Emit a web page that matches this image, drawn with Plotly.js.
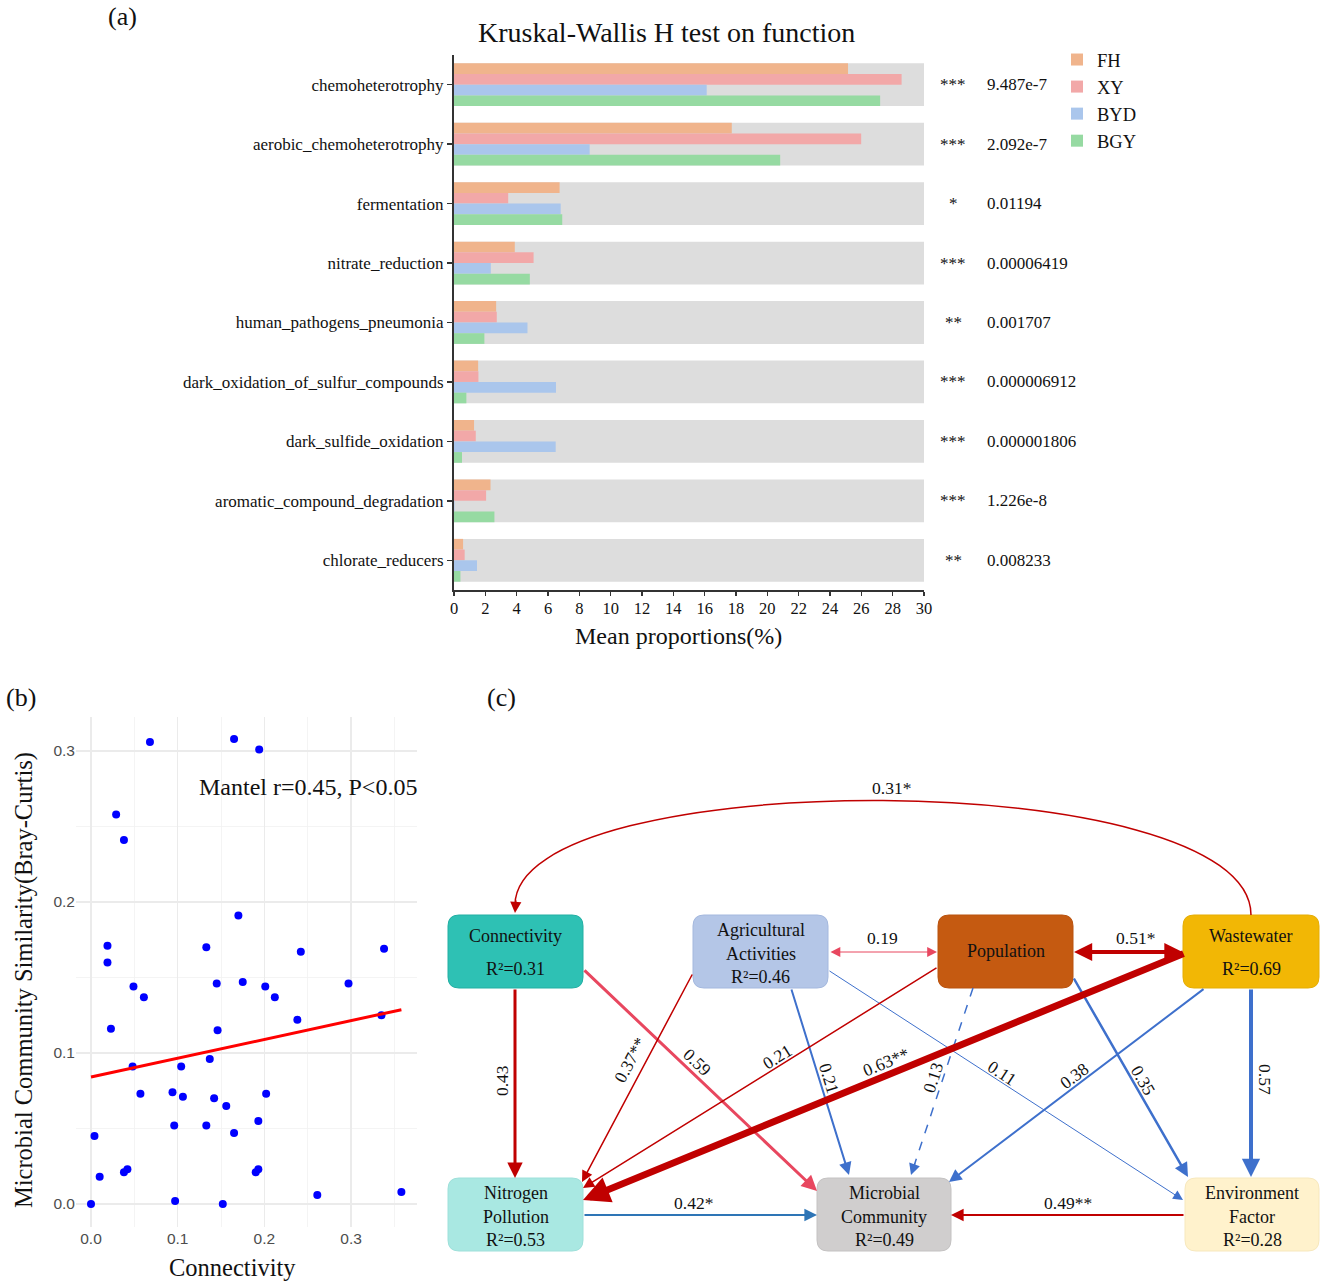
<!DOCTYPE html>
<html><head><meta charset="utf-8">
<script src="https://cdn.plot.ly/plotly-3.0.1.min.js"></script>
<style>body{margin:0;background:#fff}#chart{width:1325px;height:1285px}</style>
</head><body><div id="chart"></div>
<script>
const SERIF = 'Liberation Serif, "Times New Roman", serif';
const SANS = 'Liberation Sans, Arial, sans-serif';
const W = 1325, H = 1285;
const px = x => x / W, py = y => 1 - y / H;

// ---------- Panel (a) data ----------
const categories = ['chemoheterotrophy','aerobic_chemoheterotrophy','fermentation','nitrate_reduction',
  'human_pathogens_pneumonia','dark_oxidation_of_sulfur_compounds','dark_sulfide_oxidation',
  'aromatic_compound_degradation','chlorate_reducers'];
const groups = ['FH','XY','BYD','BGY'];
const FH  = [25.15, 17.73, 6.74, 3.88, 2.69, 1.54, 1.28, 2.33, 0.58];
const XY  = [28.57, 25.99, 3.46, 5.08, 2.73, 1.56, 1.39, 2.05, 0.68];
const BYD = [16.13, 8.66, 6.81, 2.35, 4.69, 6.51, 6.49, 0.03, 1.47];
const BGY = [27.20, 20.82, 6.91, 4.84, 1.94, 0.79, 0.51, 2.58, 0.41];
const stars = ['***','***','*','***','**','***','***','***','**'];
const pvalues = ['9.487e-7','2.092e-7','0.01194','0.00006419','0.001707','0.000006912','0.000001806','1.226e-8','0.008233'];
const xMaxA = 30;

// ---------- Panel (b) data ----------
const connectivity = [0.068,0.165,0.194,0.029,0.038,0.170,0.019,0.133,0.019,0.242,0.338,0.049,0.145,0.175,0.201,0.297,
  0.061,0.212,0.023,0.238,0.335,0.146,0.048,0.104,0.137,0.057,0.094,0.106,0.142,0.156,0.202,0.096,0.133,0.193,0.165,
  0.004,0.010,0.038,0.042,0.190,0.193,0.261,0.358,0.000,0.097,0.152];
const similarity = [0.306,0.308,0.301,0.258,0.241,0.191,0.171,0.170,0.160,0.167,0.169,0.144,0.146,0.147,0.144,0.146,
  0.137,0.137,0.116,0.122,0.125,0.115,0.091,0.091,0.096,0.073,0.074,0.071,0.070,0.065,0.073,0.052,0.052,0.055,0.047,
  0.045,0.018,0.021,0.023,0.021,0.023,0.006,0.008,0.000,0.002,0.000];
const fitX = [0, 0.358];
const fitY = [0.0841, 0.1287];

// ---------- Panel (c) data ----------
const nodes = {
  Con: {lines:['Connectivity'], r2:'R²=0.31', fill:'#2EC1B4', border:'#22AFA3', box:[448,915,583,988]},
  Agr: {lines:['Agricultural','Activities'], r2:'R²=0.46', fill:'#B4C6E7', border:'#A4B8DE', box:[693,915,828,988]},
  Pop: {lines:['Population'], r2:'', fill:'#C55A11', border:'#B9520E', box:[938,915,1073,988]},
  Was: {lines:['Wastewater'], r2:'R²=0.69', fill:'#F2B705', border:'#E5AD05', box:[1183,915,1319,988]},
  Nit: {lines:['Nitrogen','Pollution'], r2:'R²=0.53', fill:'#A9E8E2', border:'#9EE0DA', box:[448,1178,583,1251]},
  Mic: {lines:['Microbial','Community'], r2:'R²=0.49', fill:'#D0CECE', border:'#C4C2C2', box:[817,1178,951,1251]},
  Env: {lines:['Environment','Factor'], r2:'R²=0.28', fill:'#FFF2CC', border:'#F7E8BD', box:[1185,1178,1319,1251]}
};
const RED = '#C00000', PINK = '#E8475F', BLUE = '#3E70CC', BLUE2 = '#2E75B6';
// path coefficients
const edges = [
  {from:'Con', to:'Nit', label:'0.43',   tail:[515,988],  head:[515,1178], w:3,   color:RED,  lab:[502,1081], ang:-90},
  {from:'Con', to:'Mic', label:'0.59',   tail:[583,969],  head:[817,1191], w:3,   color:PINK, lab:[697,1062], ang:43.5},
  {from:'Agr', to:'Nit', label:'0.37**', tail:[693,973],  head:[582,1182], w:1.5, color:RED,  lab:[630,1060], ang:-62},
  {from:'Agr', to:'Pop', label:'0.19',   tail:[829,952],  head:[937,952],  w:1,   color:PINK, lab:[882,938],  ang:0, both:true},
  {from:'Agr', to:'Mic', label:'0.21',   tail:[791,988],  head:[849,1175], w:2,   color:BLUE, lab:[829,1078], ang:72.8},
  {from:'Agr', to:'Env', label:'0.11',   tail:[828,970],  head:[1183,1200],w:1,   color:BLUE, lab:[1002,1073],ang:33},
  {from:'Pop', to:'Nit', label:'0.21',   tail:[938,967],  head:[583,1188], w:1.5, color:RED,  lab:[777,1057], ang:-32},
  {from:'Pop', to:'Mic', label:'0.13',   tail:[973,988],  head:[911,1175], w:1.5, color:BLUE, lab:[933,1078], ang:-72, dash:true},
  {from:'Pop', to:'Env', label:'0.35',   tail:[1073,977], head:[1188,1177],w:2.5, color:BLUE, lab:[1143,1080],ang:60},
  {from:'Was', to:'Pop', label:'0.51*',  tail:[1184,952], head:[1074,952], w:4,   color:RED,  lab:[1135,938], ang:0, both:true},
  {from:'Was', to:'Nit', label:'0.63**', tail:[1185,953], head:[583,1200], w:7,   color:RED,  lab:[886,1062], ang:-22.4},
  {from:'Was', to:'Mic', label:'0.38',   tail:[1205,988], head:[949,1182], w:2,   color:BLUE, lab:[1074,1076],ang:-37},
  {from:'Was', to:'Env', label:'0.57',   tail:[1251,988], head:[1251,1177],w:4,   color:BLUE, lab:[1265,1079],ang:90},
  {from:'Nit', to:'Mic', label:'0.42*',  tail:[583,1215], head:[817,1215], w:2,   color:BLUE2,lab:[693,1203], ang:0},
  {from:'Env', to:'Mic', label:'0.49**', tail:[1185,1215],head:[951,1215], w:2,   color:RED,  lab:[1068,1203],ang:0}
];
const arcEdge = {from:'Was', to:'Con', label:'0.31*', start:[1251,915], c1:[1251,764], c2:[515,764], end:[515,913], w:1.5, color:RED, lab:[891,788]};

// ---------- traces ----------
const colors = {FH:'#F0B48C', XY:'#F2A8A8', BYD:'#AAC6EC', BGY:'#96DAA2'};
const vals = {FH, XY, BYD, BGY};
const traces = [];
traces.push({type:'bar', orientation:'h', y:categories, x:categories.map(()=>xMaxA), base:0,
  offset:-0.36, width:0.72, marker:{color:'#DDDDDD'}, showlegend:false, hoverinfo:'skip', xaxis:'x', yaxis:'y'});
groups.forEach((g,i)=>{
  traces.push({type:'bar', orientation:'h', name:g, y:categories, x:vals[g], offset:-0.36+0.18*i, width:0.18,
    marker:{color:colors[g]}, xaxis:'x', yaxis:'y'});
});
traces.push({type:'scatter', mode:'markers', x:connectivity, y:similarity, marker:{color:'#0000FF', size:8},
  showlegend:false, xaxis:'x2', yaxis:'y2'});
traces.push({type:'scatter', mode:'lines', x:fitX, y:fitY, line:{color:'#FF0000', width:3},
  showlegend:false, xaxis:'x2', yaxis:'y2'});
// dashed edge line
edges.filter(e=>e.dash).forEach(e=>{
  traces.push({type:'scatter', mode:'lines', x:[e.tail[0], e.head[0]], y:[e.tail[1], e.head[1]],
    line:{color:e.color, width:e.w, dash:'dash'}, showlegend:false, hoverinfo:'skip', xaxis:'x3', yaxis:'y3'});
});

// ---------- shapes & annotations ----------
const shapes = [];
const annotations = [];
function rr(b, r){
  const [x0,y0,x1,y1] = b;
  return `M${x0+r},${y0} L${x1-r},${y0} Q${x1},${y0} ${x1},${y0+r} L${x1},${y1-r} Q${x1},${y1} ${x1-r},${y1} `+
         `L${x0+r},${y1} Q${x0},${y1} ${x0},${y1-r} L${x0},${y0+r} Q${x0},${y0} ${x0+r},${y0} Z`;
}
Object.values(nodes).forEach(n=>{
  shapes.push({type:'path', xref:'x3', yref:'y3', path:rr(n.box, 11), fillcolor:n.fill, line:{color:n.border, width:1}, layer:'below'});
  const cx = (n.box[0]+n.box[2])/2, cy = (n.box[1]+n.box[3])/2;
  const all = n.r2 ? n.lines.concat([n.r2]) : n.lines;
  let ys;
  if (all.length === 3) ys = [cy-21.5, cy+2.5, cy+25.5];
  else if (all.length === 2) ys = [cy-15, cy+18];
  else ys = [cy];
  all.forEach((t,i)=>annotations.push({xref:'x3', yref:'y3', x:cx, y:ys[i], text:t, showarrow:false,
    font:{family:SERIF, size:18, color:'#111'}, xanchor:'center', yanchor:'middle'}));
});
function headSize(w){ return (7 + 2.8*w) / (5*w); }
edges.forEach(e=>{
  const s = headSize(e.w);
  if (e.dash) {
    const dx = e.head[0]-e.tail[0], dy = e.head[1]-e.tail[1], L = Math.hypot(dx,dy);
    annotations.push({xref:'x3', yref:'y3', axref:'x3', ayref:'y3', x:e.head[0], y:e.head[1],
      ax:e.head[0]-dx/L*14, ay:e.head[1]-dy/L*14, text:'', showarrow:true, arrowhead:2, arrowsize:s,
      arrowwidth:e.w, arrowcolor:e.color, standoff:0, startstandoff:0});
  } else {
    annotations.push({xref:'x3', yref:'y3', axref:'x3', ayref:'y3', x:e.head[0], y:e.head[1],
      ax:e.tail[0], ay:e.tail[1], text:'', showarrow:true, arrowhead:2, arrowsize:s, startarrowhead:2, startarrowsize:s,
      arrowside: e.both ? 'end+start' : 'end', arrowwidth:e.w, arrowcolor:e.color, standoff:0, startstandoff:0});
  }
  annotations.push({xref:'x3', yref:'y3', x:e.lab[0], y:e.lab[1], text:e.label, textangle:e.ang, showarrow:false,
    font:{family:SERIF, size:17.5, color:'#111'}, xanchor:'center', yanchor:'middle'});
});
// arc edge
shapes.push({type:'path', xref:'x3', yref:'y3',
  path:`M${arcEdge.start[0]},${arcEdge.start[1]} C${arcEdge.c1[0]},${arcEdge.c1[1]} ${arcEdge.c2[0]},${arcEdge.c2[1]} ${arcEdge.end[0]},${arcEdge.end[1]-8}`,
  line:{color:arcEdge.color, width:arcEdge.w}});
annotations.push({xref:'x3', yref:'y3', axref:'x3', ayref:'y3', x:arcEdge.end[0], y:arcEdge.end[1],
  ax:arcEdge.end[0]+1, ay:arcEdge.end[1]-14, text:'', showarrow:true, arrowhead:2, arrowsize:headSize(arcEdge.w),
  arrowwidth:arcEdge.w, arrowcolor:arcEdge.color, standoff:0, startstandoff:0});
annotations.push({xref:'x3', yref:'y3', x:arcEdge.lab[0], y:arcEdge.lab[1], text:arcEdge.label, showarrow:false,
  font:{family:SERIF, size:17.5, color:'#111'}, xanchor:'center', yanchor:'middle'});

// panel (a) stars & p-values
categories.forEach((c,i)=>{
  annotations.push({xref:'paper', yref:'y', x:px(953), y:c, text:stars[i], showarrow:false, xanchor:'center', yanchor:'middle',
    font:{family:SERIF, size:17, color:'#111'}});
  annotations.push({xref:'paper', yref:'y', x:px(985), y:c, text:pvalues[i], showarrow:false, xanchor:'left', yanchor:'middle',
    font:{family:SERIF, size:17, color:'#111'}});
});
// panel labels and titles
const paperText = (x,y,t,size,extra)=>Object.assign({xref:'paper', yref:'paper', x:px(x), y:py(y), text:t, showarrow:false,
  xanchor:'center', yanchor:'middle', font:{family:SERIF, size:size, color:'#111'}}, extra||{});
annotations.push(paperText(122,17,'(a)',26));
annotations.push(paperText(21,697,'(b)',26));
annotations.push(paperText(501,697,'(c)',26));
annotations.push(paperText(666,32,'Kruskal-Wallis H test on function',28));
annotations.push(paperText(678,636,'Mean proportions(%)',24));
annotations.push(paperText(308,787,'Mantel r=0.45, P<0.05',24));
annotations.push(paperText(232,1267,'Connectivity',24.5));
annotations.push(paperText(24,980,'Microbial Community Similarity(Bray-Curtis)',24.5,{textangle:-90}));

const layout = {
  width:W, height:H, margin:{l:0,r:0,t:0,b:0}, paper_bgcolor:'#fff', plot_bgcolor:'rgba(0,0,0,0)',
  showlegend:true, barmode:'overlay',
  legend:{x:px(1057), y:py(41), xanchor:'left', yanchor:'top', font:{family:SERIF, size:18.5, color:'#111'},
    tracegroupgap:0, itemsizing:'constant', bgcolor:'rgba(0,0,0,0)'},
  xaxis:{domain:[px(454), px(924)], range:[0, xMaxA], dtick:2, tick0:0, anchor:'y', showgrid:false, zeroline:false,
    showline:true, linecolor:'#333', linewidth:2, ticks:'outside', ticklen:4, tickcolor:'#333', tickwidth:1.5,
    ticklabelstandoff:-2,
    tickfont:{family:SERIF, size:16.5, color:'#111'}, fixedrange:true, automargin:false},
  yaxis:{domain:[py(590), py(55)], type:'category', range:[8.5,-0.5], anchor:'x', showgrid:false, zeroline:false,
    showline:true, linecolor:'#333', linewidth:2, ticks:'outside', ticklen:5, tickcolor:'#333', tickwidth:1.5,
    tickfont:{family:SERIF, size:17, color:'#111'}, fixedrange:true, automargin:false},
  xaxis2:{domain:[px(76), px(417)], range:[-0.0173, 0.376], dtick:0.1, tick0:0, tickformat:'.1f', anchor:'y2',
    showgrid:true, gridcolor:'#EBEBEB', gridwidth:1.3, zeroline:false, showline:false, ticks:'',
    minor:{dtick:0.05, tick0:0, showgrid:true, gridcolor:'#F1F1F1', gridwidth:0.8},
    tickfont:{family:SANS, size:15.5, color:'#4D4D4D'}, fixedrange:true, automargin:false},
  yaxis2:{domain:[py(1227), py(717)], range:[-0.0152, 0.3225], dtick:0.1, tick0:0, tickformat:'.1f', anchor:'x2',
    showgrid:true, gridcolor:'#EBEBEB', gridwidth:1.3, zeroline:false, showline:false, ticks:'',
    minor:{dtick:0.05, tick0:0, showgrid:true, gridcolor:'#F1F1F1', gridwidth:0.8},
    tickfont:{family:SANS, size:15.5, color:'#4D4D4D'}, fixedrange:true, automargin:false},
  xaxis3:{domain:[px(430), 1], range:[430, 1325], anchor:'y3', visible:false, fixedrange:true},
  yaxis3:{domain:[0, py(700)], range:[1285, 700], anchor:'x3', visible:false, fixedrange:true},
  shapes, annotations
};
Plotly.newPlot('chart', traces, layout, {displayModeBar:false, staticPlot:true});
</script></body></html>
